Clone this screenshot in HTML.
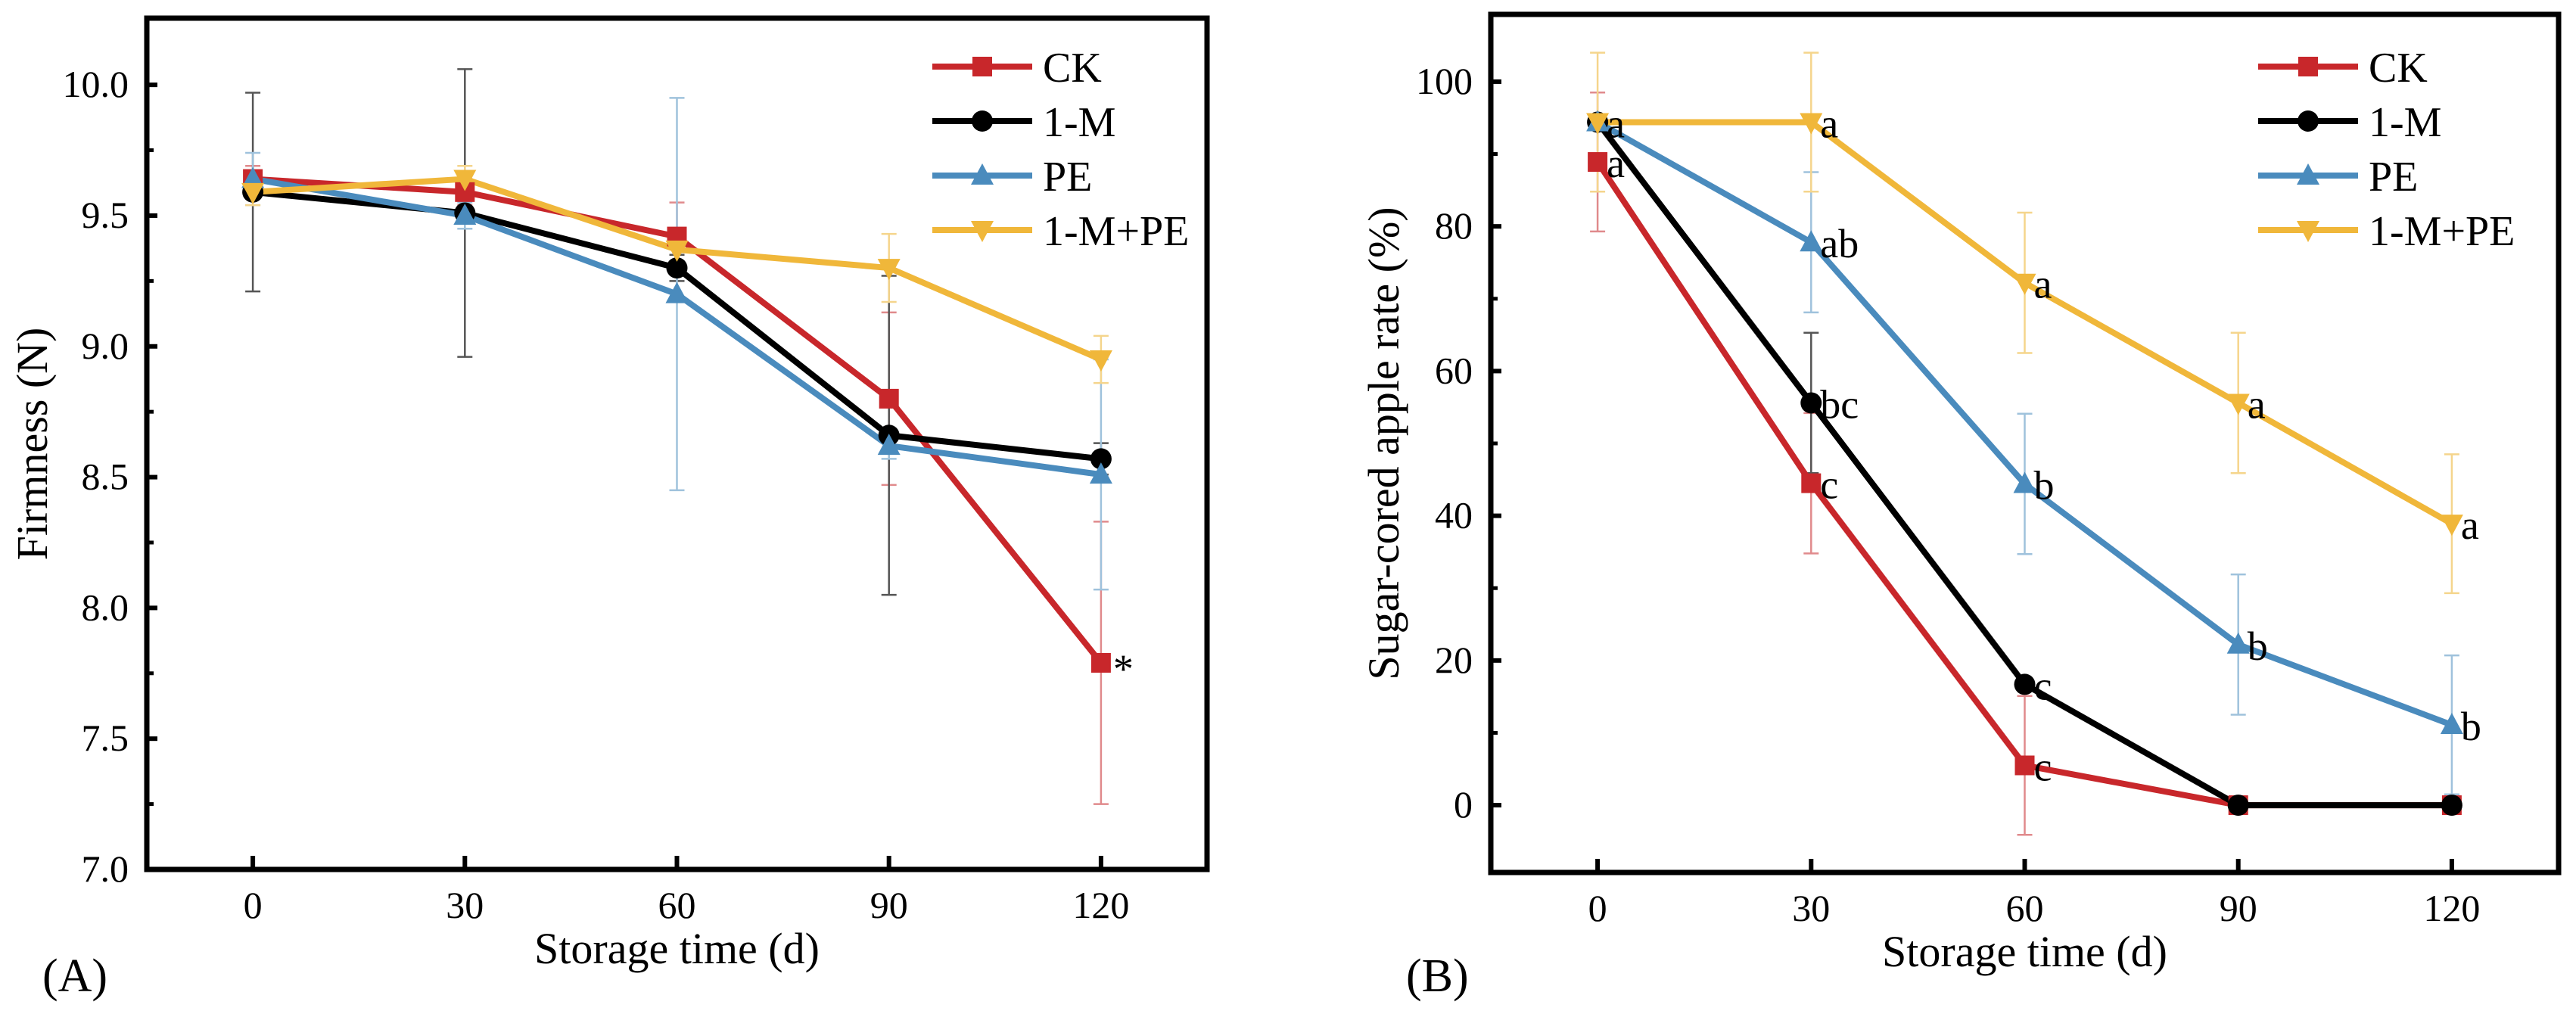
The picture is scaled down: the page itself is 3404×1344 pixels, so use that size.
<!DOCTYPE html>
<html><head><meta charset="utf-8"><style>
html,body{margin:0;padding:0;background:#fff;}
svg, svg text{font-family:"Liberation Serif","DejaVu Serif",serif;}
</style></head><body>
<svg id="fig" width="3404" height="1339" viewBox="0 0 3404 1339" font-family="Liberation Serif, serif" xmlns="http://www.w3.org/2000/svg"></svg>
<script>
// ---------- data ----------
const days = [0, 30, 60, 90, 120];
const seriesNames = ["CK", "1-M", "PE", "1-M+PE"];
// Panel A: firmness (N)
const firmCK   = [9.64, 9.59, 9.42, 8.80, 7.79];
const firmM    = [9.59, 9.51, 9.30, 8.66, 8.57];
const firmPE   = [9.64, 9.50, 9.20, 8.62, 8.51];
const firmMPE  = [9.59, 9.64, 9.37, 9.30, 8.95];
const firmErrCK  = [0.05, 0.05, 0.13, 0.33, 0.54];
const firmErrM   = [0.38, 0.55, 0.05, 0.61, 0.06];
const firmErrPE  = [0.10, 0.05, 0.75, 0.05, 0.44];
const firmErrMPE = [0.05, 0.05, 0.05, 0.13, 0.09];
const firmTicks = [7.0, 7.5, 8.0, 8.5, 9.0, 9.5, 10.0];
// Panel B: sugar-cored apple rate (%)
const rateCK  = [88.9, 44.5, 5.5, 0, 0];
const rateM   = [94.4, 55.6, 16.7, 0, 0];
const ratePE  = [94.4, 77.8, 44.4, 22.2, 11.1];
const rateMPE = [94.4, 94.4, 72.2, 55.6, 38.9];
const rateErrCK  = [9.6, 9.7, 9.6, 0, 0];
const rateErrM   = [0, 9.7, 0, 0, 0];
const rateErrPE  = [0, 9.7, 9.7, 9.7, 9.6];
const rateErrMPE = [9.6, 9.6, 9.7, 9.7, 9.6];
const rateLetCK  = ["a", "c", "c", "", ""];
const rateLetM   = ["", "bc", "c", "", ""];
const rateLetPE  = ["", "ab", "b", "b", "b"];
const rateLetMPE = ["a", "a", "a", "a", "a"];
const rateTicks = [0, 20, 40, 60, 80, 100];

const colors = ["#c8272b", "#000000", "#4a8bbd", "#f0b73a"];
const errColors = ["#e08a8c", "#555555", "#9fc2dc", "#f5d58c"];
const markers = ["square", "circle", "up", "down"];
const NS = "http://www.w3.org/2000/svg";
const FF = "Liberation Serif, DejaVu Serif, serif";
const svg = document.getElementById("fig");
function el(tag, attrs, parent) {
  const e = document.createElementNS(NS, tag);
  for (const k in attrs) e.setAttribute(k, attrs[k]);
  if (tag === "text") e.setAttribute("font-family", FF);
  (parent || svg).appendChild(e);
  return e;
}
function marker(g, type, x, y, c) {
  let m;
  if (type === "square") m = el("rect", {x: x-13, y: y-13, width: 26, height: 26, fill: c}, g);
  else if (type === "circle") m = el("circle", {cx: x, cy: y, r: 14, fill: c}, g);
  else if (type === "up") m = el("polygon", {points: `${x},${y-16} ${x-15},${y+12} ${x+15},${y+12}`, fill: c}, g);
  else m = el("polygon", {points: `${x},${y+16} ${x-15},${y-12} ${x+15},${y-12}`, fill: c}, g);
  return m;
}
function panel(cfg) {
  const {L, R, T, B, ymin, ymax, ticks, fmt, series, errs, letters, ylabel, tag, tagX, legX, legY, name, minor} = cfg;
  const g = el("g", {});
  
  
  const xs = v => L + (v + 15) / 150 * (R - L);
  const ys = v => B - (v - ymin) / (ymax - ymin) * (B - T);
  series.forEach((s, si) => {
    s.forEach((v, i) => {
      const e = errs[si][i]; if (!e) return;
      const x = xs(days[i]);
      const eb = el("path", {d: `M${x},${ys(v-e)}V${ys(v+e)}M${x-10},${ys(v-e)}h20M${x-10},${ys(v+e)}h20`, stroke: errColors[si], "stroke-width": 2.5, fill: "none"}, g);
      
      
    });
  });
  series.forEach((s, si) => {
    const pts = s.map((v, i) => `${xs(days[i])},${ys(v)}`).join(" ");
    const pl = el("polyline", {points: pts, fill: "none", stroke: colors[si], "stroke-width": 8, "stroke-linejoin": "round"}, g);
    
    
  });
  series.forEach((s, si) => {
    s.forEach((v, i) => {
      const m = marker(g, markers[si], xs(days[i]), ys(v), colors[si]);
      
      
      if (letters && letters[si][i]) {
        const t = el("text", {x: xs(days[i]) + 12, y: ys(v) + 20, "font-size": 54, fill: "#000"}, g);
        t.textContent = letters[si][i];
        
        
      }
    });
  });
  const fr = el("rect", {x: L, y: T, width: R - L, height: B - T, fill: "none", stroke: "#000", "stroke-width": 7}, g);
  
  
  ticks.forEach(v => {
    el("line", {x1: L, x2: L + 14, y1: ys(v), y2: ys(v), stroke: "#000", "stroke-width": 6}, g);
    const t = el("text", {x: L - 24, y: ys(v) + 16, "font-size": 50, "text-anchor": "end"}, g);
    t.textContent = fmt(v);
    
    
  });
  minor.forEach(v => el("line", {x1: L, x2: L + 9, y1: ys(v), y2: ys(v), stroke: "#000", "stroke-width": 5}, g));
  days.forEach(d => {
    el("line", {x1: xs(d), x2: xs(d), y1: B, y2: B - 18, stroke: "#000", "stroke-width": 6}, g);
    const t = el("text", {x: xs(d), y: B + 64, "font-size": 50, "text-anchor": "middle"}, g);
    t.textContent = d;
    
    
  });
  const xt = el("text", {x: (L + R) / 2, y: B + 124, "font-size": 58, "text-anchor": "middle"}, g);
  xt.textContent = "Storage time (d)";
  
  
  const yx = cfg.yTitleX, yy = (T + B) / 2;
  const yt = el("text", {x: yx, y: yy, "font-size": 58, "text-anchor": "middle", transform: `rotate(-90 ${yx} ${yy})`, dy: 18}, g);
  yt.textContent = ylabel;
  
  
  const pt = el("text", {x: tagX, y: 1310, "font-size": 62}, g);
  pt.textContent = tag;
  
  
  seriesNames.forEach((n, i) => {
    const y = legY + i * 72;
    const lg = el("g", {}, g);
    
    
    el("line", {x1: legX, x2: legX + 132, y1: y, y2: y, stroke: colors[i], "stroke-width": 8}, lg);
    marker(lg, markers[i], legX + 66, y, colors[i]);
    const t = el("text", {x: legX + 146, y: y + 20, "font-size": 56}, lg);
    t.textContent = n;
  });
  return {xs, ys, g};
}
const A = panel({L: 194, R: 1595, T: 24, B: 1149, ymin: 7.0, ymax: 10.255, ticks: firmTicks, fmt: v => v.toFixed(1),
  series: [firmCK, firmM, firmPE, firmMPE], errs: [firmErrCK, firmErrM, firmErrPE, firmErrMPE], letters: null,
  ylabel: "Firmness (N)", tag: "(A)", tagX: 56, legX: 1232, legY: 88, name: "panel-a-firmness", yTitleX: 44,
  minor: [7.25, 7.75, 8.25, 8.75, 9.25, 9.75]});
const star = el("text", {x: A.xs(120) + 16, y: A.ys(firmCK[4]) + 26, "font-size": 54}, A.g);
star.textContent = "*";


panel({L: 1970, R: 3381, T: 19, B: 1153, ymin: -9.3, ymax: 109.3, ticks: rateTicks, fmt: v => String(v),
  series: [rateCK, rateM, ratePE, rateMPE], errs: [rateErrCK, rateErrM, rateErrPE, rateErrMPE],
  letters: [rateLetCK, rateLetM, rateLetPE, rateLetMPE],
  ylabel: "Sugar-cored apple rate (%)", tag: "(B)", tagX: 1858, legX: 2984, legY: 88, name: "panel-b-sugar-cored-rate", yTitleX: 1830,
  minor: [10, 30, 50, 70, 90]});
</script>
</body></html>
